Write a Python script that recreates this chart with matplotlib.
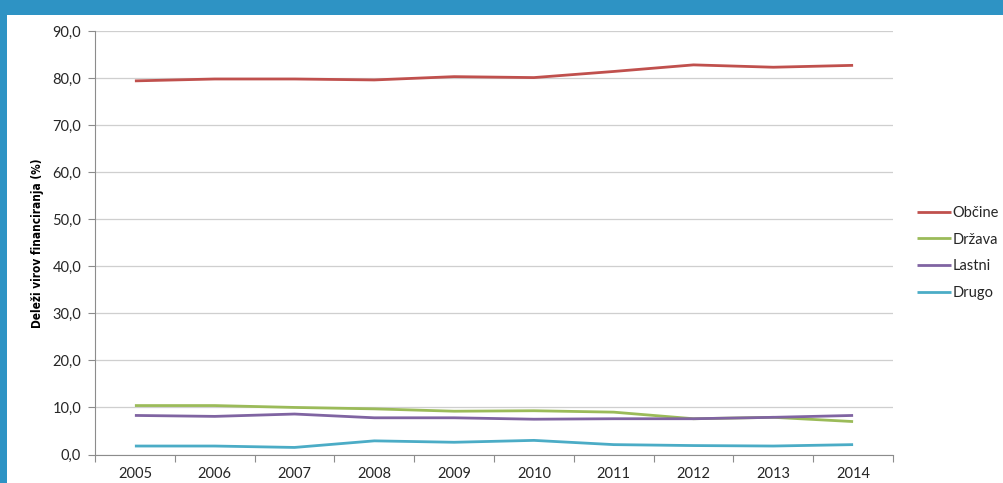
import matplotlib
matplotlib.use("Agg")
import matplotlib.pyplot as plt
from matplotlib.patches import Rectangle
from matplotlib.ticker import FuncFormatter, FixedLocator

years = ["2005", "2006", "2007", "2008", "2009", "2010", "2011", "2012", "2013", "2014"]
obcine = [79.4, 79.8, 79.8, 79.6, 80.3, 80.1, 81.4, 82.8, 82.3, 82.7]
drzava = [10.4, 10.4, 10.0, 9.7, 9.2, 9.3, 9.0, 7.6, 7.9, 7.0]
lastni = [8.3, 8.1, 8.6, 7.8, 7.8, 7.5, 7.6, 7.6, 7.9, 8.3]
drugo = [1.8, 1.8, 1.5, 2.9, 2.6, 3.0, 2.1, 1.9, 1.8, 2.1]
series_names = ["Občine", "Država", "Lastni", "Drugo"]
colors = ["#C0504D", "#9BBB59", "#8064A2", "#4BACC6"]
yticks = [0, 10, 20, 30, 40, 50, 60, 70, 80, 90]

plt.rcParams['font.family'] = ['Lato', 'DejaVu Sans']

W, H = 1004, 483
fig = plt.figure(figsize=(W / 100, H / 100), dpi=100)
fig.patch.set_facecolor("#2E93C4")
fig.patches.append(Rectangle((7 / W, 0), 1 - 7 / W, 1 - 15 / H, transform=fig.transFigure,
                             facecolor="white", edgecolor="none", zorder=-10))

left, right = 95, 893
top, bottom = 31, 454.5
ax = fig.add_axes([left / W, 1 - bottom / H, (right - left) / W, (bottom - top) / H])
ax.set_facecolor("none")
ax.set_zorder(5)

x = list(range(len(years)))
for vals, name, c in zip([obcine, drzava, lastni, drugo], series_names, colors):
    ax.plot(x, vals, color=c, lw=2.0, label=name, solid_joinstyle="round",
            solid_capstyle="butt", zorder=3)

ax.set_xlim(-0.5, len(years) - 0.5)
ax.set_ylim(0, 90)
ax.yaxis.set_major_locator(FixedLocator(yticks))
ax.yaxis.set_major_formatter(FuncFormatter(lambda v, p: f"{v:.1f}".replace(".", ",")))
ax.set_xticks(x)
ax.set_xticklabels(years)
ax.xaxis.set_minor_locator(FixedLocator([i - 0.5 for i in range(len(years) + 1)]))
ax.tick_params(axis="x", which="major", length=0, pad=9, labelsize=10.5, labelcolor="#262626")
ax.tick_params(axis="x", which="minor", length=5, color="#8C8C8C", width=0.8, direction="out")
ax.tick_params(axis="y", length=5, color="#8C8C8C", width=0.8, labelsize=10.5,
               labelcolor="#262626", pad=5)
ax.grid(axis="y", color="#CFCFCF", lw=0.9, zorder=1)
for s in ["top", "right"]:
    ax.spines[s].set_visible(False)
ax.spines["left"].set_color("#8C8C8C")
ax.spines["bottom"].set_color("#8C8C8C")
ax.spines["left"].set_linewidth(0.8)
ax.spines["bottom"].set_linewidth(0.8)

fig.text(38 / W, 1 - 243 / H, "Deleži virov financiranja (%)", rotation=90,
         ha="center", va="center", fontsize=8.5, fontweight="bold",
         family=["DejaVu Sans"], fontstretch="condensed", color="black")

leg = ax.legend(loc="upper left", bbox_to_anchor=(917 / W, 1 - 206 / H),
                bbox_transform=fig.transFigure, frameon=False, fontsize=10.5,
                handlelength=2.3, handletextpad=0.15, labelspacing=0.86, borderpad=0,
                borderaxespad=0)
for t in leg.get_texts():
    t.set_color("#262626")

fig.savefig("out.png", dpi=100)
